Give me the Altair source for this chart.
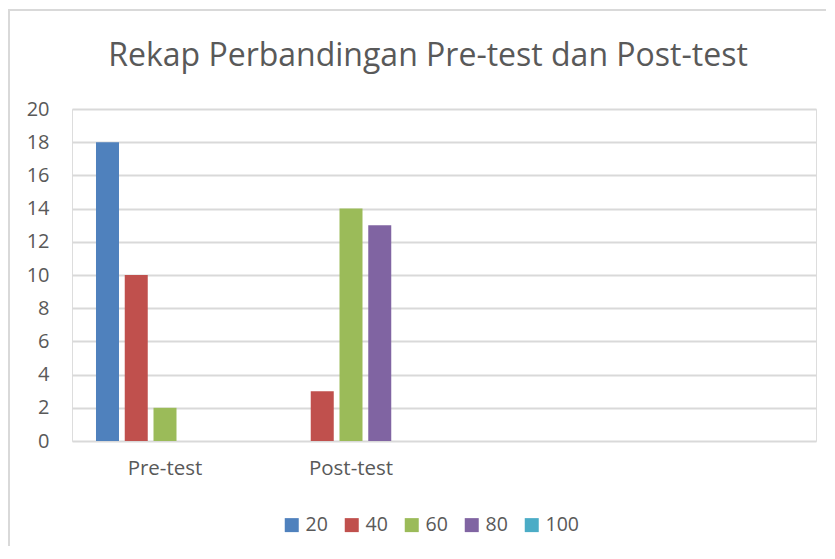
import altair as alt
import pandas as pd

categories = ["Pre-test", "Post-test", " ", "  "]
series = ["20", "40", "60", "80", "100"]
pre_test = [18, 10, 2, 0, 0]
post_test = [0, 3, 14, 13, 0]
colors = ["#4F81BD", "#C0504D", "#9BBB59", "#8064A2", "#4BACC6"]
y_ticks = [0, 2, 4, 6, 8, 10, 12, 14, 16, 18, 20]
title_text = "Rekap Perbandingan Pre-test dan Post-test"

rows = []
for s, v in zip(series, pre_test):
    rows.append({"kategori": categories[0], "nilai": s, "jumlah": v})
for s, v in zip(series, post_test):
    rows.append({"kategori": categories[1], "nilai": s, "jumlah": v})
df = pd.DataFrame(rows)

FONT = "Open Sans"
TXT = "#595959"
GRID = "#D9D9D9"

bars = alt.Chart(df).mark_bar().encode(
    x=alt.X("kategori:N", scale=alt.Scale(domain=categories, paddingInner=0.258, paddingOuter=0.129),
            axis=alt.Axis(title=None, labelAngle=0, domain=False, ticks=False, grid=False,
                          labelFontSize=20.5, labelColor=TXT, labelFont=FONT, labelPadding=17)),
    xOffset=alt.XOffset("nilai:N", scale=alt.Scale(domain=series, paddingInner=0.2, paddingOuter=0)),
    y=alt.Y("jumlah:Q", scale=alt.Scale(domain=[0, 20], nice=False),
            axis=alt.Axis(title=None, values=y_ticks, domain=False, ticks=False, grid=True,
                          gridColor=GRID, gridWidth=2, labelFontSize=20, labelColor=TXT,
                          labelFont=FONT, labelPadding=23)),
    color=alt.Color("nilai:N", scale=alt.Scale(domain=series, range=colors),
                    legend=alt.Legend(title=None, orient="none", legendX=210, legendY=406,
                                      direction="horizontal", columns=5, columnPadding=14,
                                      symbolType="square", symbolSize=196, symbolStrokeWidth=0,
                                      symbolOpacity=1, labelFontSize=19.5, labelColor=TXT,
                                      labelFont=FONT, labelOffset=4)),
)

one = pd.DataFrame({"a": [0]})
left_border = alt.Chart(one).mark_rule(color=GRID, strokeWidth=2).encode(
    x=alt.value(-63), y=alt.value(-99), y2=alt.value(460))
top_border = alt.Chart(one).mark_rule(color=GRID, strokeWidth=2).encode(
    x=alt.value(-64), x2=alt.value(760), y=alt.value(-99))
title = alt.Chart(one).mark_text(font=FONT, fontSize=32, color=TXT, align="center",
                                 baseline="alphabetic").encode(
    x=alt.value(356), y=alt.value(-43), text=alt.value(title_text))

chart = alt.layer(left_border, top_border, title, bars).properties(
    width=744, height=332,
    autosize=alt.AutoSizeParams(type="none"),
    padding={"left": 64, "top": 101, "right": 10, "bottom": 105},
).configure_view(stroke=None).configure(background="white")

chart.save("out.html", embed_options={"renderer": "svg", "actions": False})
